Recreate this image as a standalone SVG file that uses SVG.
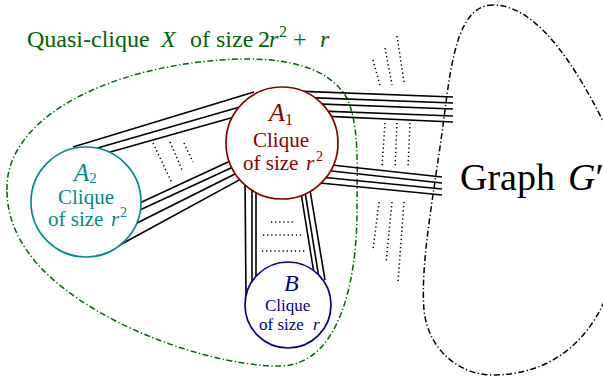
<svg xmlns="http://www.w3.org/2000/svg" width="603" height="381" viewBox="0 0 603 381">
<style>
  text { font-family: "Liberation Serif", "Times New Roman", serif; }
  .it { font-style: italic; }
  .bundle line { stroke: #000; stroke-width: 1.6; stroke-linecap: butt; }
  .dots line { stroke: #000; stroke-width: 1.5; stroke-dasharray: 1.3 2.8; }
  .region { fill: none; stroke-width: 1.5; stroke-dasharray: 6 2.5 1.3 2.5; }
  .node circle { fill: #fff; stroke-width: 1.7; }
</style>
<rect width="603" height="381" fill="#fff"/>

<g id="quasi-clique-X">
  <path class="region" stroke="#006600" d="M 7,190 C 5,125 90,75 200,62 C 260,55 320,58 345,95 C 360,120 357,170 357,210 C 357,280 340,365 280,366 C 220,367 100,330 40,267 C 20,245 7,220 7,190 Z"/>
  <text x="27" y="47" font-size="24" fill="#006600">Quasi-clique<tspan x="161" class="it">X</tspan><tspan x="190">of</tspan><tspan x="216">size</tspan><tspan x="258">2</tspan><tspan x="269" class="it">r</tspan><tspan x="279" dy="-10" font-size="16">2</tspan><tspan x="293" dy="10">+</tspan><tspan x="320" class="it">r</tspan></text>
</g>

<g id="graph-G">
  <path class="region" stroke="#000" d="M 493,5 C 460,5 452,55 445,110 C 435,190 420,260 424,310 C 428,350 460,376 495,375 C 548,374 585,345 605,300 C 625,260 630,170 605,125 C 580,75 540,5 493,5 Z"/>
  <text x="460" y="190" font-size="38" fill="#000">Graph<tspan x="568" class="it">G</tspan><tspan>′</tspan></text>
</g>

<g id="connectors">
  <g class="bundle">
    <line x1="73" y1="147" x2="254" y2="92"/>
    <line x1="94" y1="149" x2="245" y2="105.6"/>
    <line x1="105" y1="153.4" x2="236" y2="116.4"/>
    <line x1="137.5" y1="204.1" x2="234.5" y2="158.9"/>
    <line x1="135.5" y1="212.1" x2="237.5" y2="164.9"/>
    <line x1="132.5" y1="225.2" x2="241.5" y2="170.8"/>
    <line x1="118" y1="246" x2="245.4" y2="176.6"/>
    <line x1="245" y1="180" x2="246" y2="296"/>
    <line x1="252" y1="180" x2="252" y2="284"/>
    <line x1="256" y1="180" x2="256" y2="282"/>
    <line x1="299.9" y1="186.1" x2="314.4" y2="275.9"/>
    <line x1="303.9" y1="185.1" x2="319.3" y2="279.9"/>
    <line x1="309" y1="184.1" x2="325" y2="280"/>
    <line x1="290" y1="90.9" x2="453" y2="97"/>
    <line x1="290" y1="96.9" x2="453" y2="103"/>
    <line x1="290" y1="102.9" x2="453" y2="109"/>
    <line x1="290" y1="109.9" x2="453" y2="116"/>
    <line x1="290" y1="114.6" x2="453" y2="122"/>
    <line x1="320" y1="163.8" x2="442" y2="177"/>
    <line x1="320" y1="169.8" x2="442" y2="183"/>
    <line x1="320" y1="177" x2="442" y2="189"/>
    <line x1="320" y1="183" x2="442" y2="195"/>
  </g>
  <g class="dots">
    <line x1="153" y1="143" x2="172" y2="183"/>
    <line x1="170" y1="142" x2="183" y2="172"/>
    <line x1="184" y1="143" x2="193" y2="162"/>
    <line x1="271" y1="222" x2="293" y2="222"/>
    <line x1="263" y1="235" x2="302" y2="235"/>
    <line x1="262" y1="251" x2="307" y2="251"/>
    <line x1="373" y1="60" x2="380" y2="85"/>
    <line x1="385" y1="48" x2="392" y2="85"/>
    <line x1="397" y1="36" x2="404" y2="82"/>
    <line x1="385" y1="123" x2="382" y2="167"/>
    <line x1="397" y1="123" x2="395" y2="168"/>
    <line x1="410" y1="123" x2="408" y2="168"/>
    <line x1="379" y1="202" x2="373" y2="250"/>
    <line x1="392" y1="202" x2="386" y2="263"/>
    <line x1="404" y1="202" x2="398" y2="282"/>
  </g>
</g>

<g id="A1" class="node">
  <circle cx="282" cy="143" r="56" stroke="#8b0000"/>
  <text x="269" y="121" font-size="26" fill="#8b0000" class="it">A<tspan font-size="16" dy="4" font-style="normal">1</tspan></text>
  <text x="253" y="147" font-size="21" fill="#8b0000">Clique</text>
  <text x="243" y="170" font-size="21" fill="#8b0000">of size<tspan x="306" class="it">r</tspan><tspan x="316" dy="-9" font-size="14">2</tspan></text>
</g>

<g id="A2" class="node">
  <circle cx="86" cy="202" r="55" stroke="#008b8b"/>
  <text x="74" y="181" font-size="25" fill="#008b8b" class="it">A<tspan font-size="15" dy="2" font-style="normal">2</tspan></text>
  <text x="58" y="204" font-size="21" fill="#008b8b">Clique</text>
  <text x="48" y="226" font-size="21" fill="#008b8b">of size<tspan x="111" class="it">r</tspan><tspan x="120" dy="-9" font-size="14">2</tspan></text>
</g>

<g id="B" class="node">
  <circle cx="288" cy="305" r="43" stroke="#00008b"/>
  <text x="284" y="291" font-size="24" fill="#00008b" class="it">B</text>
  <text x="265" y="311" font-size="17" fill="#00008b">Clique</text>
  <text x="259" y="330" font-size="17" fill="#00008b">of size<tspan x="313" class="it">r</tspan></text>
</g>
</svg>
